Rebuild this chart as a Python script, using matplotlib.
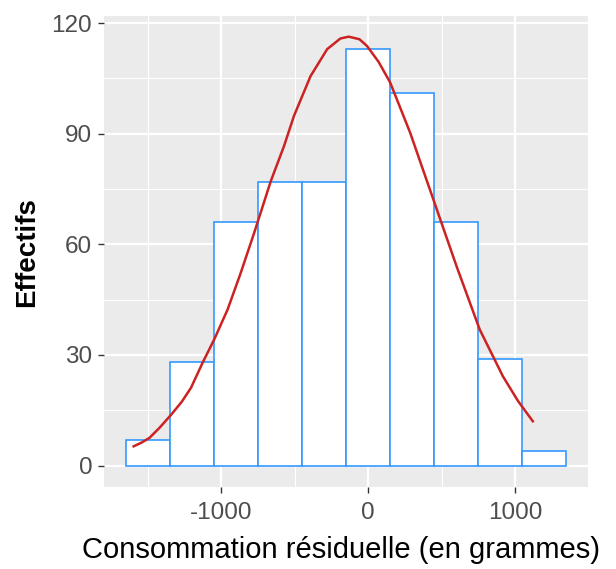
import matplotlib
matplotlib.use("Agg")
import matplotlib.pyplot as plt
from matplotlib.ticker import MultipleLocator

# histogram bins (edges) and counts
bin_edges = [-1650, -1350, -1050, -750, -450, -150, 150, 450, 750, 1050, 1350]
counts = [7, 28, 66, 77, 77, 113, 101, 66, 29, 4]

# fitted density curve
curve_x = [-1598, -1540, -1490, -1420, -1342, -1270, -1207, -1128, -1049, -958,
           -868, -777, -664, -574, -506, -393, -280, -190, -133, -60,
           -9, 70, 149, 285, 443, 601, 759, 917, 1020, 1121]
curve_y = [5.2, 6.3, 7.5, 10.3, 13.8, 17.3, 21.1, 27.9, 34.2, 42.3,
           52.3, 63.1, 77.1, 86.6, 94.8, 105.6, 112.9, 115.8, 116.3, 115.6,
           113.8, 109.5, 103.9, 90.3, 72.2, 54.1, 36.9, 24.2, 17.5, 12.0]

x_ticks = [-1000, 0, 1000]
y_ticks = [0, 30, 60, 90, 120]

plt.rcParams['font.family'] = ['Liberation Sans', 'DejaVu Sans']
plt.rcParams['axes.unicode_minus'] = False

fig = plt.figure(figsize=(6.16, 5.69), dpi=100)
ax = fig.add_axes([0.1688, 0.1443, 0.7865, 0.8269])
ax.set_facecolor('#EBEBEB')

widths = [bin_edges[i + 1] - bin_edges[i] for i in range(len(counts))]
ax.bar(bin_edges[:-1], counts, width=widths, align='edge',
       color='white', edgecolor='#3399FF', linewidth=1.2, zorder=3)
ax.plot(curve_x, curve_y, color='#CC2222', linewidth=1.8, zorder=4)

ax.set_xlim(-1800, 1500)
ax.set_ylim(-5.8, 121.8)
ax.set_xticks(x_ticks)
ax.set_yticks(y_ticks)
ax.set_xticks([-1500, -500, 500, 1500], minor=True)
ax.yaxis.set_minor_locator(MultipleLocator(15))

ax.grid(which='major', color='white', linewidth=1.6, zorder=0)
ax.grid(which='minor', color='white', linewidth=0.8, zorder=0)
ax.set_axisbelow(True)
for s in ax.spines.values():
    s.set_visible(False)

ax.tick_params(which='major', length=4, width=1, color='#333333',
               labelcolor='#4D4D4D', labelsize=17.5)
ax.tick_params(axis='x', pad=7)
ax.tick_params(axis='y', pad=4.5)
ax.tick_params(which='minor', length=0)

ax.set_xlabel('Consommation résiduelle (en grammes)', fontsize=21, color='black')
ax.xaxis.set_label_coords(0.49, -0.105)
ax.set_ylabel('Effectifs', fontsize=20, color='black', fontweight='bold',
              labelpad=8)

fig.savefig('out.png', dpi=100)
